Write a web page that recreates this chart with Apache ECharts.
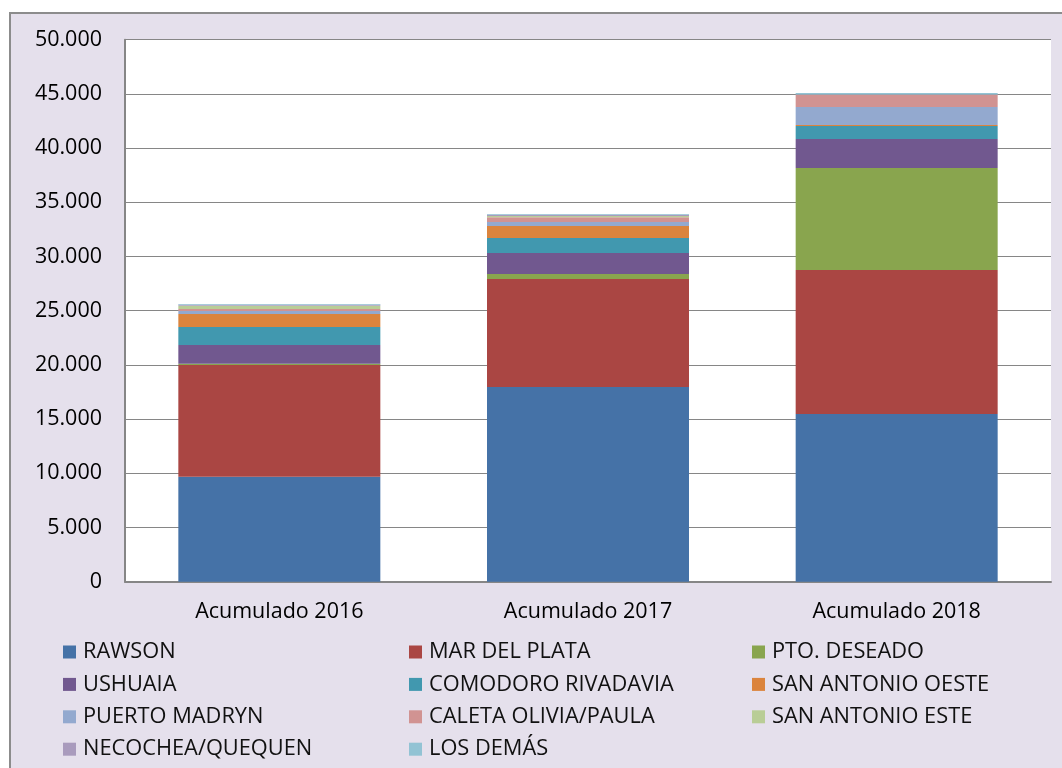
<!DOCTYPE html>
<html>
<head>
<meta charset="utf-8">
<script src="https://cdn.jsdelivr.net/npm/echarts@6/dist/echarts.min.js"></script>
<style>
html,body{margin:0;padding:0;background:#fff;}
#c{width:1062px;height:768px;}
</style>
</head>
<body>
<div id="c"></div>
<script>
const categories = ['Acumulado 2016', 'Acumulado 2017', 'Acumulado 2018'];
const yTicks = [0, 5000, 10000, 15000, 20000, 25000, 30000, 35000, 40000, 45000, 50000];

const rawson        = [9690, 17960, 15470];
const marDelPlata   = [10300, 9960, 13280];
const ptoDeseado    = [120, 470, 9410];
const ushuaia       = [1730, 1930, 2680];
const comodoro      = [1660, 1390, 1200];
const sanAntOeste   = [1200, 1100, 90];
const puertoMadryn  = [270, 370, 1660];
const caletaOlivia  = [190, 430, 1140];
const sanAntEste    = [300, 120, 0];
const necochea      = [80, 120, 20];
const losDemas      = [80, 60, 130];

const seriesDefs = [
  ['RAWSON', rawson, '#4572A7'],
  ['MAR DEL PLATA', marDelPlata, '#AA4643'],
  ['PTO. DESEADO', ptoDeseado, '#89A54E'],
  ['USHUAIA', ushuaia, '#71588F'],
  ['COMODORO RIVADAVIA', comodoro, '#4198AF'],
  ['SAN ANTONIO OESTE', sanAntOeste, '#DB843D'],
  ['PUERTO MADRYN', puertoMadryn, '#93A9CF'],
  ['CALETA OLIVIA/PAULA', caletaOlivia, '#D19392'],
  ['SAN ANTONIO ESTE', sanAntEste, '#B9CD96'],
  ['NECOCHEA/QUEQUEN', necochea, '#A99BBD'],
  ['LOS DEMÁS', losDemas, '#92C3D4']
];

const FONT = 'Open Sans';
const chart = echarts.init(document.getElementById('c'), null, {renderer: 'canvas'});

const legendText = {fontFamily: FONT, fontSize: 21.8, color: '#111', lineHeight: 20, padding: [0, 0, 0, 2]};
function legendCol(left, names) {
  return {
    orient: 'vertical', left: left, top: 641, height: 127, width: 330, padding: 0,
    itemWidth: 13, itemHeight: 13, itemGap: 10.4,
    icon: 'rect', selectedMode: false, textStyle: legendText, data: names
  };
}

function fmt(v) {
  return String(v).replace(/\B(?=(\d{3})+(?!\d))/g, '.');
}

chart.setOption({
  animation: false,
  backgroundColor: '#fff',
  graphic: [{
    type: 'rect', z: -10, silent: true,
    shape: {x: 10, y: 13, width: 1070, height: 780},
    style: {fill: '#E5E0EC', stroke: '#8C8C8C', lineWidth: 2}
  }],
  grid: {left: 125, right: 11, top: 39.7, bottom: 186.3, show: true, backgroundColor: '#fff', borderWidth: 0, containLabel: false},
  legend: [
    legendCol(63, ['RAWSON', 'USHUAIA', 'PUERTO MADRYN', 'NECOCHEA/QUEQUEN']),
    legendCol(409, ['MAR DEL PLATA', 'COMODORO RIVADAVIA', 'CALETA OLIVIA/PAULA', 'LOS DEMÁS']),
    legendCol(752, ['PTO. DESEADO', 'SAN ANTONIO OESTE', 'SAN ANTONIO ESTE'])
  ],
  xAxis: {
    type: 'category', data: categories,
    axisLine: {lineStyle: {color: '#868686', width: 2}},
    axisTick: {show: false},
    axisLabel: {fontFamily: FONT, fontSize: 21.5, color: '#000', margin: 20, lineHeight: 21}
  },
  yAxis: {
    type: 'value', min: yTicks[0], max: yTicks[yTicks.length - 1], interval: yTicks[1] - yTicks[0],
    axisLine: {show: true, lineStyle: {color: '#868686', width: 2}},
    axisTick: {show: false},
    splitLine: {lineStyle: {color: '#868686', width: 1}},
    axisLabel: {fontFamily: FONT, fontSize: 21.5, color: '#000', margin: 23, formatter: fmt}
  },
  series: seriesDefs.map(([name, data, color]) => ({
    name: name, type: 'bar', stack: 'total', data: data, barWidth: 202,
    itemStyle: {color: color}, emphasis: {disabled: true}
  }))
});
</script>
</body>
</html>
